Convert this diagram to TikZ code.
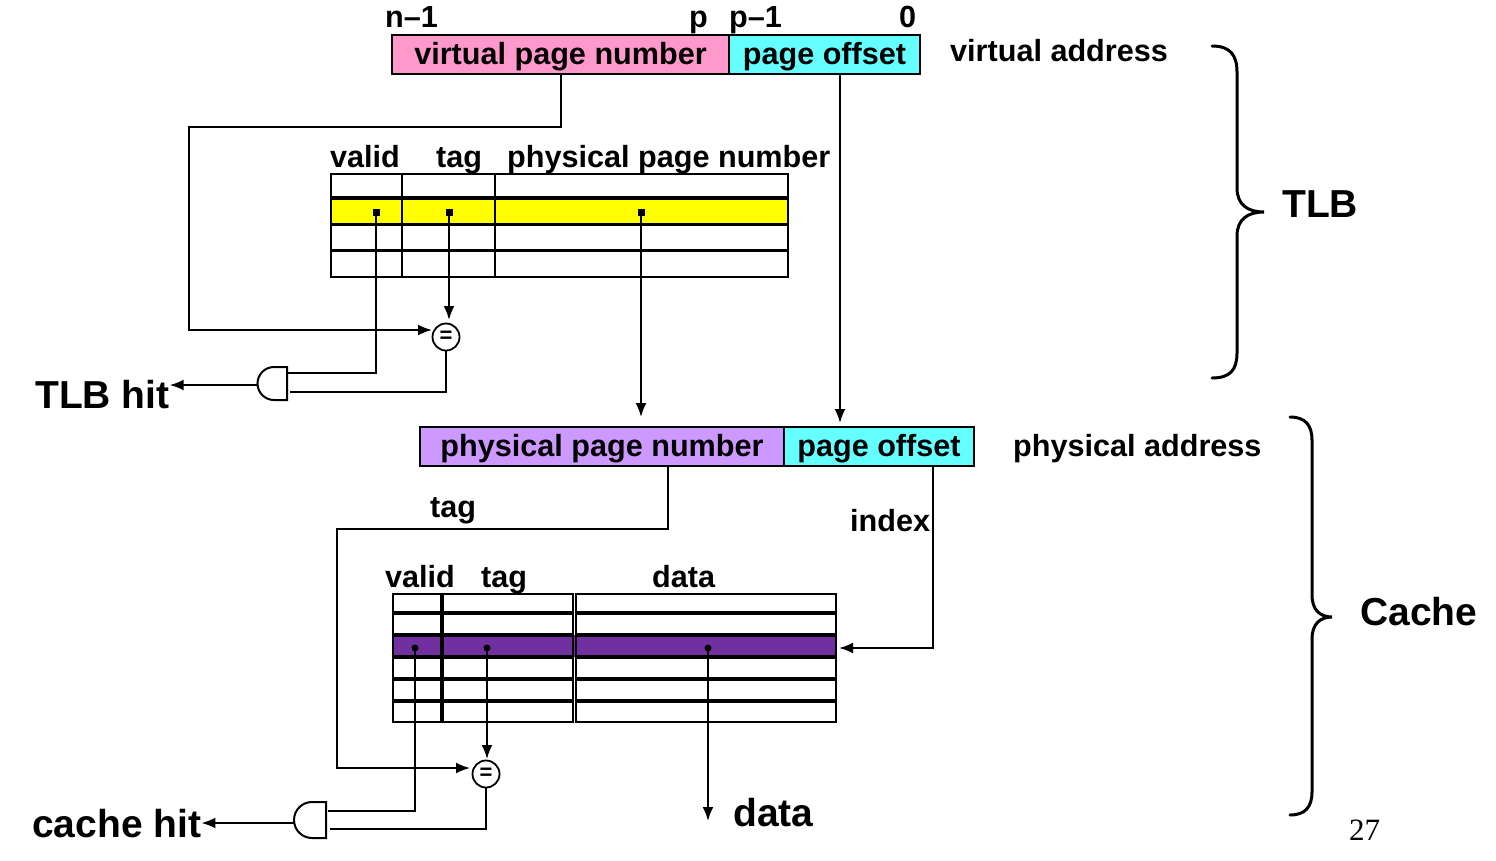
\documentclass[tikz,border=0pt]{standalone}
\usepackage{fontspec}
\setmainfont{Liberation Sans}
\newfontfamily\serifnum{Liberation Serif}
\usetikzlibrary{arrows.meta}
\definecolor{vpink}{HTML}{FF99CC}
\definecolor{vcyan}{HTML}{66FFFF}
\definecolor{vlav}{HTML}{CC99FF}
\definecolor{vyellow}{HTML}{FFFF00}
\definecolor{vpurple}{HTML}{7030A0}
\begin{document}
\begin{tikzpicture}[x=1pt,y=-1pt,line join=miter,
  lbl/.style={font=\fontsize{30.6}{36}\selectfont\bfseries,inner sep=0pt,anchor=base west},
  big/.style={font=\fontsize{39}{46}\selectfont\bfseries,inner sep=0pt,anchor=base west},
  wire/.style={line width=2pt},
  arr/.style={wire,-{Latex[length=14pt,width=11pt]}},
  fieldbox/.style={draw,line width=2pt,inner sep=0pt,anchor=north west,minimum height=39pt,
    text height=24pt,text depth=4pt,font=\fontsize{30.6}{36}\selectfont\bfseries},
  sqdot/.style={fill,inner sep=0pt,minimum size=7pt},
  rddot/.style={circle,fill,inner sep=0pt,minimum size=7pt},
  cmp/.style={circle,draw,line width=1.8pt,inner sep=0pt,minimum size=27pt,
    font=\fontsize{22}{22}\selectfont\bfseries},
  rowsep/.style={line width=3.5pt},
  brace/.style={line width=3pt,line cap=round},
]
\useasboundingbox (0,0) rectangle (1496,860);

% ---------- virtual address ----------
\node[fieldbox,fill=vpink,minimum width=337pt] (vpn) at (391,34) {virtual page number};
\node[fieldbox,fill=vcyan,minimum width=191pt] (voff) at (728,34) {page offset};
\node[lbl] (bn1) at (385,27) {n–1};
\node[lbl] (bp) at (689,27) {p};
\node[lbl] (bp1) at (729,27) {p–1};
\node[lbl] (b0) at (899,27) {0};
\node[lbl] (vaddr) at (950,61) {virtual address};

% ---------- TLB table ----------
\node[lbl] (tv) at (330,167) {valid};
\node[lbl] (tt) at (436,167) {tag};
\node[lbl] (tp) at (507,167) {physical page number};
\fill[vyellow] (330,198) rectangle (787,224);
\node[draw,line width=2pt,inner sep=0pt,anchor=north west,minimum width=457pt,minimum height=103pt] (tlb) at (330,173) {};
\draw[line width=2pt] (402,173) -- (402,276) (495,173) -- (495,276);
\draw[rowsep] (330,198) -- (787,198) (330,224.5) -- (787,224.5) (330,250.5) -- (787,250.5);
\node[sqdot] (dv) at (376,212) {};
\node[sqdot] (dt) at (449,212) {};
\node[sqdot] (dp) at (641,212) {};

% comparator and gate (TLB)
\node[cmp] (cmp1) at (446,337) {=};
\draw[line width=2pt] (287,367) -- (274,367) arc (270:90:16.5) -- (287,400) -- cycle;
\coordinate (and1a) at (287,373);
\coordinate (and1b) at (290,392);
\coordinate (and1o) at (257.5,385);
\node[big] (tlbhit) at (35,408) {TLB hit};

\coordinate (vpnout) at (561,73);
\coordinate (vbend) at (189,127);
\coordinate (cmp1in) at (432,330);
\draw[arr] (vpnout) |- (vbend) |- (cmp1in);
\draw[arr] (dt.center) -- (449,320);
\draw[wire] (dv.center) |- (and1a);
\draw[wire] (cmp1.south) |- (and1b);
\draw[arr] (and1o) -- (tlbhit.east |- and1o);

% ---------- physical address ----------
\node[fieldbox,fill=vlav,minimum width=364pt] (ppn) at (419,426) {physical page number};
\node[fieldbox,fill=vcyan,minimum width=190pt] (poff) at (783,426) {page offset};
\node[lbl] (paddr) at (1013,456) {physical address};
\coordinate (voffout) at (840,73);
\coordinate (voffin) at (840,423);
\coordinate (ppnin) at (641,417);
\draw[arr] (voffout) -- (voffin);
\draw[arr] (dp.center) -- (ppnin);

% ---------- cache ----------
\node[lbl] (ctag) at (430,517) {tag};
\node[lbl] (cidx) at (850,531) {index};
\node[lbl] (cv) at (385,587) {valid};
\node[lbl] (ct) at (481,587) {tag};
\node[lbl] (cd) at (652,587) {data};
\fill[vpurple] (392,635) rectangle (835,657);
\node[draw,line width=2pt,inner sep=0pt,anchor=north west,minimum width=180pt,minimum height=128pt] (ctab) at (392,593) {};
\node[draw,line width=2pt,inner sep=0pt,anchor=north west,minimum width=260pt,minimum height=128pt] (cdat) at (575,593) {};
\foreach \yy in {613,635,657,679,701}{
  \draw[rowsep] (392,\yy) -- (572,\yy) (575,\yy) -- (835,\yy);
}
\draw[line width=4pt] (442,593) -- (442,721);
\node[rddot] (cdv) at (415,648) {};
\node[rddot] (cdt) at (487,648) {};
\node[rddot] (cdd) at (708,648) {};

\node[cmp] (cmp2) at (486,774) {=};
\draw[line width=2pt] (326,802) -- (312,802) arc (270:90:18) -- (326,838) -- cycle;
\coordinate (and2a) at (328,811);
\coordinate (and2b) at (330,829);
\coordinate (and2o) at (294,823);
\node[big] (chit) at (32,837) {cache hit};
\node[big] (dout) at (733,826) {data};

\coordinate (ppnout) at (668,465);
\coordinate (pbend) at (337,529);
\coordinate (cmp2in) at (470,768);
\draw[arr] (ppnout) |- (pbend) |- (cmp2in);
\coordinate (poffout) at (933,465);
\coordinate (idxin) at (839,648);
\draw[arr] (poffout) |- (idxin);
\draw[arr] (cdt.center) -- (487,759);
\draw[arr] (cdd.center) -- (708,821);
\draw[wire] (cdv.center) |- (and2a);
\draw[wire] (cmp2.south) |- (and2b);
\draw[arr] (and2o) -- (chit.east |- and2o);

% ---------- braces ----------
\draw[brace] (1212,46) .. controls (1230,46) and (1237,55) .. (1237,72) -- (1237,188)
  .. controls (1237,205) and (1248,212) .. (1264,212)
  .. controls (1248,212) and (1237,219) .. (1237,236) -- (1237,353)
  .. controls (1237,370) and (1230,378) .. (1212,378);
\node[big] (tlbl) at (1282,217) {TLB};
\draw[brace] (1290,417) .. controls (1305,417) and (1312,425) .. (1312,440) -- (1312,595)
  .. controls (1312,610) and (1320,617) .. (1332,617)
  .. controls (1320,617) and (1312,624) .. (1312,639) -- (1312,792)
  .. controls (1312,807) and (1305,815) .. (1290,815);
\node[big] (clbl) at (1360,625) {Cache};
\node[inner sep=0pt,anchor=base west,font=\serifnum\fontsize{31}{31}\selectfont] (pg) at (1349,840) {27};
\end{tikzpicture}
\end{document}
